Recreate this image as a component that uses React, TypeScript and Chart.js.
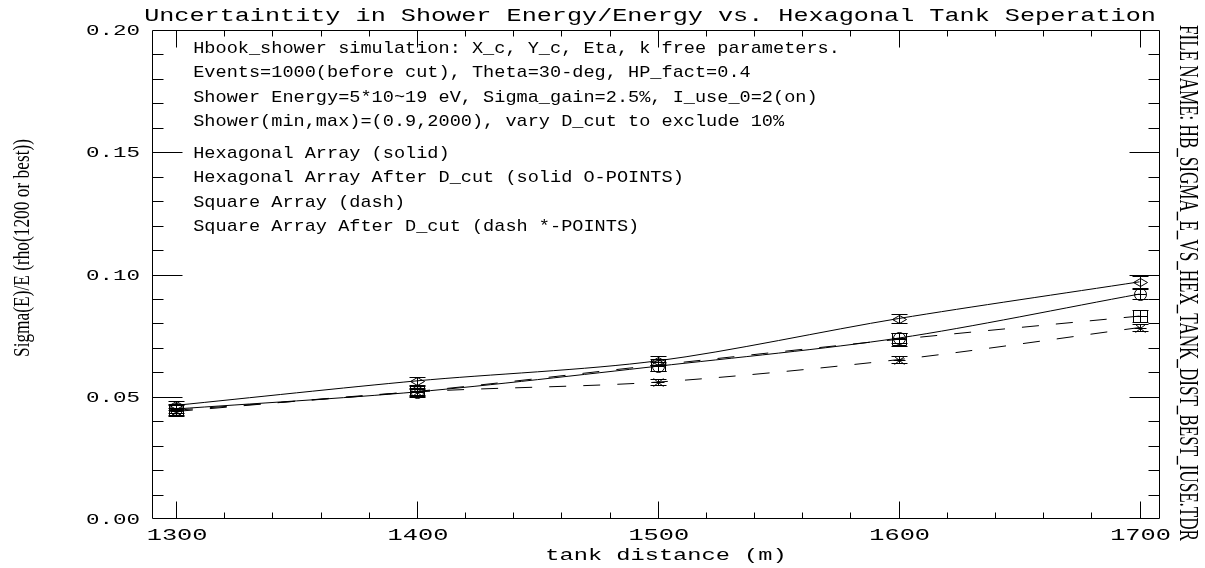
import React, { useEffect, useRef } from 'react';
import { Chart, registerables } from 'chart.js';

Chart.register(...registerables);

// ---------------- data ----------------
const tankDistance = [1300, 1400, 1500, 1600, 1700];
const hexSolid = [0.0465, 0.0565, 0.0647, 0.082, 0.097];
const hexCut = [0.045, 0.052, 0.0625, 0.074, 0.092];
const squareArr = [0.0445, 0.0522, 0.063, 0.0735, 0.083];
const squareCut = [0.044, 0.052, 0.056, 0.0652, 0.0783];

const hexSolidErr = [0.0019, 0.0015, 0.0018, 0.0019, 0.0024];
const hexCutErr = [0.0018, 0.0016, 0.0018, 0.002, 0.0022];
const squareErr = [0.0024, 0.0024, 0.0024, 0.0026, 0.0024];
const squareCutErr = [0.0014, 0.0012, 0.0013, 0.0015, 0.0016];

const xTickValues = [1300, 1400, 1500, 1600, 1700];
const xTickLabels = ['1300', '1400', '1500', '1600', '1700'];
const yTickValues = [0, 0.05, 0.1, 0.15, 0.2];
const yTickLabels = ['0.00', '0.05', '0.10', '0.15', '0.20'];

const titleText = 'Uncertaintity in Shower Energy/Energy vs. Hexagonal Tank Seperation';
const xTitle = 'tank distance (m)';
const yTitle = 'Sigma(E)/E (rho(1200 or best))';
const fileName = 'FILE NAME: HB_SIGMA_E_VS_HEX_TANK_DIST_BEST_IUSE.TDR';

const infoLines = [
  'Hbook_shower simulation: X_c, Y_c, Eta, k free parameters.',
  'Events=1000(before cut), Theta=30-deg, HP_fact=0.4',
  'Shower Energy=5*10~19 eV, Sigma_gain=2.5%, I_use_0=2(on)',
  'Shower(min,max)=(0.9,2000), vary D_cut to exclude 10%',
];
const infoLineY = [0.193, 0.183, 0.173, 0.163];
const legendLabels = [
  'Hexagonal Array (solid)',
  'Hexagonal Array After D_cut (solid O-POINTS)',
  'Square Array (dash)',
  'Square Array After D_cut (dash *-POINTS)',
];
const legendY = [0.15, 0.14, 0.13, 0.12];
const textX = 1307.1;

const MONO = '"Liberation Mono", "DejaVu Sans Mono", monospace';
const SERIF = '"Liberation Serif", "DejaVu Serif", serif';

function stretchText(
  ctx: CanvasRenderingContext2D,
  text: string,
  x: number,
  y: number,
  font: string,
  targetW: number,
  align: CanvasTextAlign,
  rot = 0,
  baseline: CanvasTextBaseline = 'alphabetic'
) {
  ctx.save();
  ctx.translate(x, y);
  if (rot) ctx.rotate(rot);
  ctx.font = font;
  const w = ctx.measureText(text).width || 1;
  ctx.scale(targetW / w, 1);
  ctx.textAlign = align;
  ctx.textBaseline = baseline;
  ctx.fillStyle = '#000';
  ctx.fillText(text, 0, 0);
  ctx.restore();
}

type MarkerKind = 'diamond' | 'circle' | 'square' | 'star';

function drawMarker(ctx: CanvasRenderingContext2D, kind: MarkerKind, cx: number, cy: number, top: number, bot: number) {
  ctx.save();
  ctx.strokeStyle = '#000';
  ctx.lineWidth = 1;
  cx = Math.round(cx) + 0.5;
  cy = Math.round(cy) + 0.5;
  top = Math.round(top) + 0.5;
  bot = Math.round(bot) + 0.5;
  ctx.beginPath();
  ctx.moveTo(cx, top);
  ctx.lineTo(cx, bot);
  ctx.moveTo(cx - 8, top);
  ctx.lineTo(cx + 8, top);
  ctx.moveTo(cx - 8, bot);
  ctx.lineTo(cx + 8, bot);
  if (kind === 'diamond') {
    ctx.moveTo(cx - 7, cy);
    ctx.lineTo(cx, cy - 4);
    ctx.lineTo(cx + 7, cy);
    ctx.lineTo(cx, cy + 4);
    ctx.closePath();
  } else if (kind === 'circle') {
    ctx.moveTo(cx + 6, cy);
    ctx.arc(cx, cy, 6, 0, Math.PI * 2);
    ctx.moveTo(cx - 6, cy);
    ctx.lineTo(cx + 6, cy);
  } else if (kind === 'square') {
    ctx.rect(cx - 7, cy - 6, 14, 12);
    ctx.moveTo(cx - 7, cy);
    ctx.lineTo(cx + 7, cy);
  } else {
    ctx.moveTo(cx - 6, cy);
    ctx.lineTo(cx + 6, cy);
    ctx.moveTo(cx - 5, cy - 4);
    ctx.lineTo(cx + 5, cy + 4);
    ctx.moveTo(cx - 5, cy + 4);
    ctx.lineTo(cx + 5, cy - 4);
  }
  ctx.stroke();
  ctx.restore();
}

const seriesMarkers: { values: number[]; errs: number[]; kind: MarkerKind }[] = [
  { values: squareCut, errs: squareCutErr, kind: 'star' },
  { values: squareArr, errs: squareErr, kind: 'square' },
  { values: hexCut, errs: hexCutErr, kind: 'circle' },
  { values: hexSolid, errs: hexSolidErr, kind: 'diamond' },
];

const decorPlugin = {
  id: 'hbookDecor',
  afterDatasetsDraw(chart: any) {
    const { ctx, scales } = chart;
    const xs = scales.x;
    const ys = scales.y;
    for (const s of seriesMarkers) {
      s.values.forEach((v, i) => {
        const px = xs.getPixelForValue(tankDistance[i]);
        drawMarker(
          ctx,
          s.kind,
          px,
          ys.getPixelForValue(v),
          ys.getPixelForValue(v + s.errs[i]),
          ys.getPixelForValue(v - s.errs[i])
        );
      });
    }
  },
  afterDraw(chart: any) {
    const { ctx, chartArea: a, scales } = chart;
    const xs = scales.x;
    const ys = scales.y;
    ctx.save();
    ctx.strokeStyle = '#000';
    ctx.lineWidth = 1;
    const L = Math.round(a.left) + 0.5;
    const R = Math.round(a.right) - 0.5;
    const T = Math.round(a.top) + 0.5;
    const B = Math.round(a.bottom) - 0.5;
    ctx.beginPath();
    ctx.rect(L, T, R - L, B - T);
    for (let v = 1300; v <= 1700; v += 20) {
      const px = Math.round(xs.getPixelForValue(v)) + 0.5;
      const len = v % 100 === 0 ? 17 : 6;
      ctx.moveTo(px, B);
      ctx.lineTo(px, B - len);
      ctx.moveTo(px, T);
      ctx.lineTo(px, T + len);
    }
    for (let k = 1; k < 20; k++) {
      const py = Math.round(ys.getPixelForValue(k / 100)) + 0.5;
      const len = k % 5 === 0 ? 30 : 11;
      ctx.moveTo(L, py);
      ctx.lineTo(L + len, py);
      ctx.moveTo(R, py);
      ctx.lineTo(R - len, py);
    }
    ctx.stroke();
    ctx.restore();

    stretchText(ctx, titleText, 650, 20.5, `19px ${MONO}`, 15.1 * titleText.length, 'center');
    yTickValues.forEach((v, i) => {
      const py = ys.getPixelForValue(v);
      stretchText(ctx, yTickLabels[i], 140, py + 5, `15px ${MONO}`, 13.5 * yTickLabels[i].length, 'right');
    });
    xTickValues.forEach((v, i) => {
      const px = xs.getPixelForValue(v);
      stretchText(ctx, xTickLabels[i], px + 1, 540, `17px ${MONO}`, 15.2 * xTickLabels[i].length, 'center');
    });
    stretchText(ctx, xTitle, 666, 560, `16px ${MONO}`, 14.2 * xTitle.length, 'center');
    stretchText(ctx, yTitle, 29, 248, `24px ${SERIF}`, 218, 'center', -Math.PI / 2);
    stretchText(ctx, fileName, 1180, 283, `27px ${SERIF}`, 516, 'center', Math.PI / 2);
    const tx = xs.getPixelForValue(textX);
    infoLines.forEach((t, i) => {
      stretchText(ctx, t, tx, ys.getPixelForValue(infoLineY[i]) + 5.7, `17px ${MONO}`, 11.15 * t.length, 'left');
    });
    legendLabels.forEach((t, i) => {
      stretchText(ctx, t, tx, ys.getPixelForValue(legendY[i]) + 5.7, `17px ${MONO}`, 11.15 * t.length, 'left');
    });
  },
};

export default function App() {
  const ref = useRef<HTMLCanvasElement | null>(null);
  useEffect(() => {
    if (!ref.current) return;
    const mk = (vals: number[]) => vals.map((v, i) => ({ x: tankDistance[i], y: v }));
    const chart = new Chart(ref.current, {
      type: 'line',
      data: {
        datasets: [
          { label: legendLabels[0], data: mk(hexSolid), borderColor: '#000', borderWidth: 1, pointRadius: 0, tension: 0.3, fill: false },
          { label: legendLabels[1], data: mk(hexCut), borderColor: '#000', borderWidth: 1, pointRadius: 0, tension: 0.3, fill: false },
          { label: legendLabels[2], data: mk(squareArr), borderColor: '#000', borderWidth: 1, pointRadius: 0, tension: 0.3, fill: false, borderDash: [17, 17] },
          { label: legendLabels[3], data: mk(squareCut), borderColor: '#000', borderWidth: 1, pointRadius: 0, tension: 0.3, fill: false, borderDash: [17, 17] },
        ],
      },
      options: {
        responsive: false,
        animation: false,
        devicePixelRatio: 1,
        layout: { padding: { left: 152, right: 45, top: 30, bottom: 49 } },
        plugins: { legend: { display: false }, title: { display: false }, tooltip: { enabled: false } },
        events: [],
        scales: {
          x: { type: 'linear', min: 1290, max: 1708.5, display: false },
          y: { type: 'linear', min: 0, max: 0.2, display: false },
        },
      },
      plugins: [decorPlugin],
    });
    return () => chart.destroy();
  }, []);
  return (
    <div style={{ position: 'absolute', left: 0, top: 0, width: 1205, height: 568, background: '#fff' }}>
      <canvas ref={ref} width={1205} height={568} />
    </div>
  );
}
